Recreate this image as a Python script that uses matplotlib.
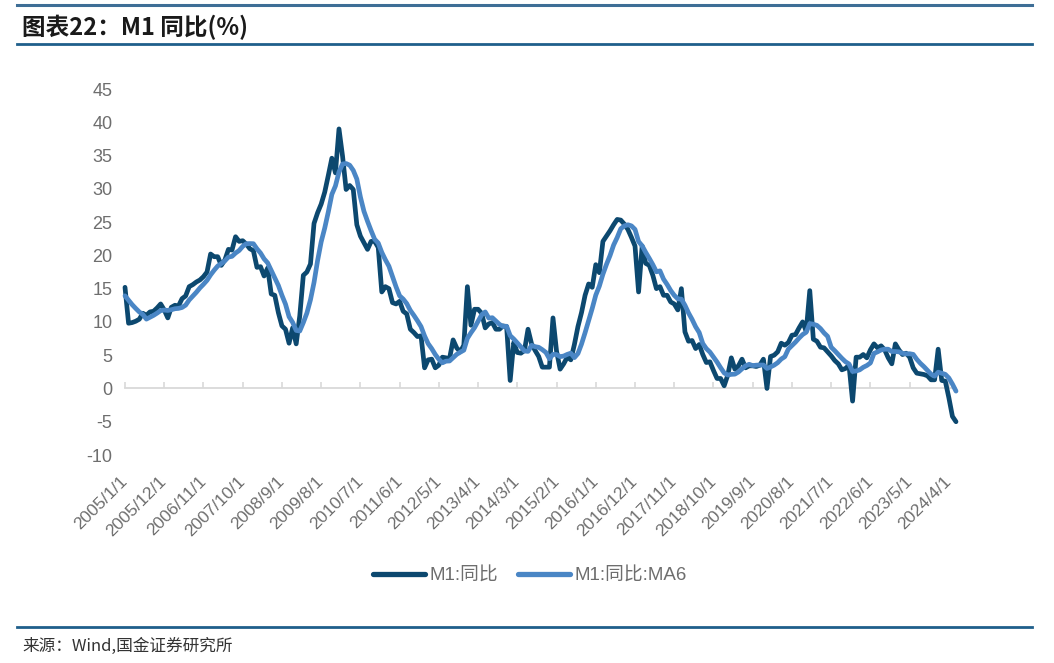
import matplotlib
matplotlib.use("Agg")
import matplotlib.pyplot as plt
from matplotlib.lines import Line2D

plt.rcParams['font.family'] = ['Liberation Sans', 'Noto Sans CJK SC', 'DejaVu Sans']
plt.rcParams['axes.unicode_minus'] = False

# M1 YoY (%), monthly 2005/1 - 2024/6
m1 = [
    15.2, 9.8, 9.9, 10.1, 10.4, 11.3, 11.0, 11.5, 11.6, 12.1, 12.7, 11.8,
    10.6, 12.2, 12.5, 12.4, 13.5, 13.9, 15.3, 15.6, 16.0, 16.3, 16.8, 17.5,
    20.2, 19.8, 19.8, 18.5, 19.3, 20.9, 20.8, 22.8, 22.1, 22.2, 21.7, 21.0,
    20.7, 18.2, 18.3, 16.9, 18.1, 14.2, 14.0, 11.4, 9.4, 8.9, 6.8, 9.1,
    6.7, 10.9, 17.0, 17.5, 18.7, 24.8, 26.4, 27.7, 29.5, 32.0, 34.6, 32.4,
    39.0, 34.9, 29.9, 30.5, 29.9, 24.6, 22.9, 21.9, 20.9, 22.1, 22.1, 21.2,
    14.5, 15.3, 15.0, 12.9, 12.7, 13.1, 11.6, 11.2, 8.9, 8.4, 7.8, 7.9,
    3.1, 4.3, 4.4, 3.1, 3.5, 4.7, 4.6, 4.5, 7.3, 6.1, 5.5, 6.5,
    15.3, 9.5, 11.9, 11.9, 11.3, 9.1, 9.7, 9.9, 8.9, 8.9, 9.4, 9.3,
    1.2, 6.9, 5.4, 5.3, 5.7, 8.9, 6.7, 5.7, 4.8, 3.2, 3.2, 3.2,
    10.6, 5.6, 2.9, 3.7, 4.7, 4.3, 6.6, 9.3, 11.4, 14.0, 15.7, 15.2,
    18.6, 17.4, 22.1, 22.9, 23.7, 24.6, 25.4, 25.3, 24.7, 23.9, 22.7, 21.4,
    14.5, 21.4, 18.8, 18.5, 17.0, 15.0, 15.3, 14.0, 14.0, 13.0, 12.7, 11.8,
    15.0, 8.5, 7.1, 7.2, 6.0, 6.6, 5.1, 3.9, 4.0, 2.7, 1.5, 1.5,
    0.4, 2.0, 4.6, 2.9, 3.4, 4.4, 3.1, 3.4, 3.4, 3.3, 3.5, 4.4,
    0.0, 4.8, 5.0, 5.5, 6.8, 6.5, 6.9, 8.0, 8.1, 9.1, 10.0, 8.6,
    14.7, 7.4, 7.1, 6.2, 6.1, 5.5, 4.9, 4.2, 3.7, 2.8, 3.0, 3.5,
    -1.9, 4.7, 4.7, 5.1, 4.6, 5.8, 6.7, 6.1, 6.4, 5.8, 4.6, 3.7,
    6.7, 5.8, 5.1, 5.3, 4.7, 3.1, 2.3, 2.2, 2.1, 1.9, 1.3, 1.3,
    5.9, 1.2, 1.1, -1.4, -4.2, -5.0,
]

# M1 YoY MA6 (%)
m1_ma6 = [
    13.92, 13.27, 12.60, 12.03, 11.50, 11.12, 10.42, 10.70, 10.98, 11.32, 11.70, 11.78,
    11.72, 11.83, 11.98, 12.03, 12.17, 12.52, 13.30, 13.87, 14.45, 15.10, 15.65, 16.25,
    17.07, 17.77, 18.40, 18.77, 19.18, 19.75, 19.85, 20.35, 20.73, 21.35, 21.75, 21.77,
    21.75, 20.98, 20.35, 19.47, 18.87, 17.73, 16.62, 15.48, 14.00, 12.67, 10.78, 9.93,
    8.72, 8.63, 9.90, 11.33, 13.32, 15.93, 19.22, 22.02, 24.10, 26.52, 29.17, 30.43,
    32.53, 33.73, 33.80, 33.55, 32.77, 31.47, 28.78, 26.62, 25.12, 23.72, 22.42, 21.85,
    20.45, 19.35, 18.37, 16.83, 15.27, 13.92, 13.43, 12.75, 11.73, 10.98, 10.17, 9.30,
    7.88, 6.73, 5.98, 5.10, 4.38, 3.85, 4.10, 4.13, 4.62, 5.12, 5.45, 5.75,
    7.53, 8.37, 9.13, 10.10, 11.07, 11.50, 10.57, 10.63, 10.13, 9.63, 9.32, 9.35,
    7.93, 7.43, 6.85, 6.25, 5.63, 5.57, 6.48, 6.28, 6.18, 5.83, 5.42, 4.47,
    5.12, 5.10, 4.78, 4.87, 5.12, 5.30, 4.63, 5.25, 6.67, 8.38, 10.22, 12.03,
    14.03, 15.38, 17.17, 18.65, 19.98, 21.55, 22.68, 24.00, 24.43, 24.60, 24.43, 23.90,
    22.08, 21.43, 20.45, 19.55, 18.60, 17.53, 17.67, 16.43, 15.63, 14.72, 14.00, 13.47,
    13.42, 12.50, 11.35, 10.38, 9.27, 8.40, 6.75, 5.98, 5.47, 4.72, 3.97, 3.12,
    2.33, 2.02, 2.12, 2.15, 2.47, 2.95, 3.40, 3.63, 3.43, 3.50, 3.52, 3.52,
    3.00, 3.23, 3.50, 3.87, 4.42, 4.77, 5.92, 6.45, 6.97, 7.57, 8.10, 8.45,
    9.75, 9.65, 9.48, 9.00, 8.35, 7.83, 6.20, 5.67, 5.10, 4.53, 4.02, 3.68,
    2.55, 2.63, 2.80, 3.18, 3.45, 3.83, 5.27, 5.50, 5.78, 5.90, 5.90, 5.55,
    5.55, 5.50, 5.28, 5.20, 5.22, 5.12, 4.38, 3.78, 3.28, 2.72, 2.15, 1.85,
    2.45, 2.28, 2.12, 1.57, 0.65, -0.40,
]

tick_labels = [
    '2005/1/1', '2005/12/1', '2006/11/1', '2007/10/1', '2008/9/1', '2009/8/1',
    '2010/7/1', '2011/6/1', '2012/5/1', '2013/4/1', '2014/3/1', '2015/2/1',
    '2016/1/1', '2016/12/1', '2017/11/1', '2018/10/1', '2019/9/1', '2020/8/1',
    '2021/7/1', '2022/6/1', '2023/5/1', '2024/4/1',
]
tick_step = 11

c_m1 = '#0C486F'
c_ma6 = '#4A86C5'
grey = '#6E6E6E'

fig = plt.figure(figsize=(10.54, 6.63), dpi=100)
ax = fig.add_axes([125 / 1054, 208 / 663, 831 / 1054, 366 / 663])

x = list(range(len(m1)))
ax.plot(x, m1, color=c_m1, lw=3.4, solid_joinstyle='round', solid_capstyle='round',
        clip_on=False, zorder=3, label='M1:同比')
ax.plot(x, m1_ma6, color=c_ma6, lw=3.4, solid_joinstyle='round', solid_capstyle='round',
        clip_on=False, zorder=4, label='M1:同比:MA6')

ax.set_xlim(0, len(m1) - 1)
ax.set_ylim(-10, 45)
ax.set_yticks(range(-10, 50, 5))
ax.tick_params(axis='y', length=0, pad=9, labelsize=13, labelcolor=grey)

for s in ['left', 'right', 'top']:
    ax.spines[s].set_visible(False)
ax.spines['bottom'].set_position(('data', 0))
ax.spines['bottom'].set_color('#D9D9D9')
ax.spines['bottom'].set_linewidth(1.3)

ticks = [i * tick_step for i in range(len(tick_labels))]
ax.set_xticks(ticks)
ax.tick_params(axis='x', direction='in', length=4, width=1.2, color='#D9D9D9', labelbottom=False)

lab = ax.secondary_xaxis('bottom')
lab.set_xticks(ticks, labels=tick_labels)
lab.tick_params(length=0, pad=17, labelsize=12.5, labelcolor=grey)
lab.spines['bottom'].set_visible(False)
for t in lab.get_xticklabels():
    t.set_rotation(45)
    t.set_rotation_mode('anchor')
    t.set_ha('right')
    t.set_va('center')

handles = [Line2D([], [], color=c_m1, lw=3.8, solid_capstyle='round'),
           Line2D([], [], color=c_ma6, lw=3.8, solid_capstyle='round')]
fig.legend(handles, ['M1:同比', 'M1:同比:MA6'], loc='center', ncol=2, frameon=False,
           bbox_to_anchor=(530 / 1054, 1 - 576 / 663), fontsize=13.5, labelcolor=grey,
           handlelength=2.75, handletextpad=0.25, columnspacing=1.1)

# header / footer rules
fig.add_artist(Line2D([17 / 1054, 1032 / 1054], [1 - 5 / 663] * 2, color='#3E6E96', lw=2.2))
fig.add_artist(Line2D([17 / 1054, 1032 / 1054], [1 - 44 / 663] * 2, color='#1F5F8B', lw=2.0))
fig.add_artist(Line2D([17 / 1054, 1032 / 1054], [1 - 627 / 663] * 2, color='#1F5F8B', lw=2.0))

fig.text(22 / 1054, 1 - 27 / 663, '图表22：M1 同比(%)', fontsize=17, fontweight='bold',
         style='italic', color='#1A1A1A', va='center',
         family=['Noto Sans CJK SC', 'DejaVu Sans'])
fig.text(22 / 1054, 1 - 646 / 663, '来源：Wind,国金证券研究所', fontsize=12, color='#333333',
         va='center', family=['Noto Sans CJK SC', 'DejaVu Sans'])

fig.savefig('out.png', dpi=100)
